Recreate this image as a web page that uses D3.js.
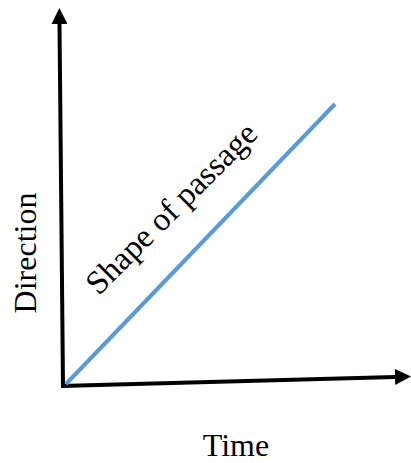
<!DOCTYPE html>
<html>
<head>
<meta charset="utf-8">
<script src="https://cdn.jsdelivr.net/npm/d3@7"></script>
<style>
html,body{margin:0;padding:0;background:#fff;}
svg{display:block;}
text{font-family:"Liberation Serif","Times New Roman",serif;fill:#000;}
</style>
</head>
<body>
<div id="chart"></div>
<script>
// Data
const timeValues = [0, 10];
const directionValues = [0, 10];
const xLabel = "Time";
const yLabel = "Direction";
const lineLabel = "Shape of passage";

const W = 411, H = 463;
const svg = d3.select("#chart").append("svg").attr("width", W).attr("height", H);

const x = d3.scaleLinear().domain([0, 10]).range([66, 335]);
const y = d3.scaleLinear().domain([0, 10]).range([384, 104]);

const defs = svg.append("defs");
defs.append("marker").attr("id","arr").attr("viewBox","0 0 10 10")
  .attr("refX",0).attr("refY",5).attr("markerWidth",4).attr("markerHeight",4)
  .attr("markerUnits","strokeWidth").attr("orient","auto")
  .append("path").attr("d","M0,0 L10,5 L0,10 Z").attr("fill","#000");

// Y axis (slightly tilted as in reference)
svg.append("line").attr("x1",63).attr("y1",386).attr("x2",59.5).attr("y2",24)
  .attr("stroke","#000").attr("stroke-width",4).attr("marker-end","url(#arr)");
// X axis
svg.append("line").attr("x1",61).attr("y1",386).attr("x2",395).attr("y2",377)
  .attr("stroke","#000").attr("stroke-width",4).attr("marker-end","url(#arr)");

const data = timeValues.map((t,i)=>({t, d: directionValues[i]}));
svg.append("path").datum(data)
  .attr("d", d3.line().x(d=>x(d.t)).y(d=>y(d.d)))
  .attr("fill","none").attr("stroke","#5B9BD5").attr("stroke-width",4);

svg.append("text").attr("x",236).attr("y",456).attr("text-anchor","middle")
  .attr("font-size",32).text(xLabel);

svg.append("text").attr("transform","translate(36,253) rotate(-90)")
  .attr("text-anchor","middle").attr("font-size",32).text(yLabel);

svg.append("text").attr("transform","translate(179,216) rotate(-45)")
  .attr("text-anchor","middle").attr("font-size",33).text(lineLabel);
</script>
</body>
</html>
